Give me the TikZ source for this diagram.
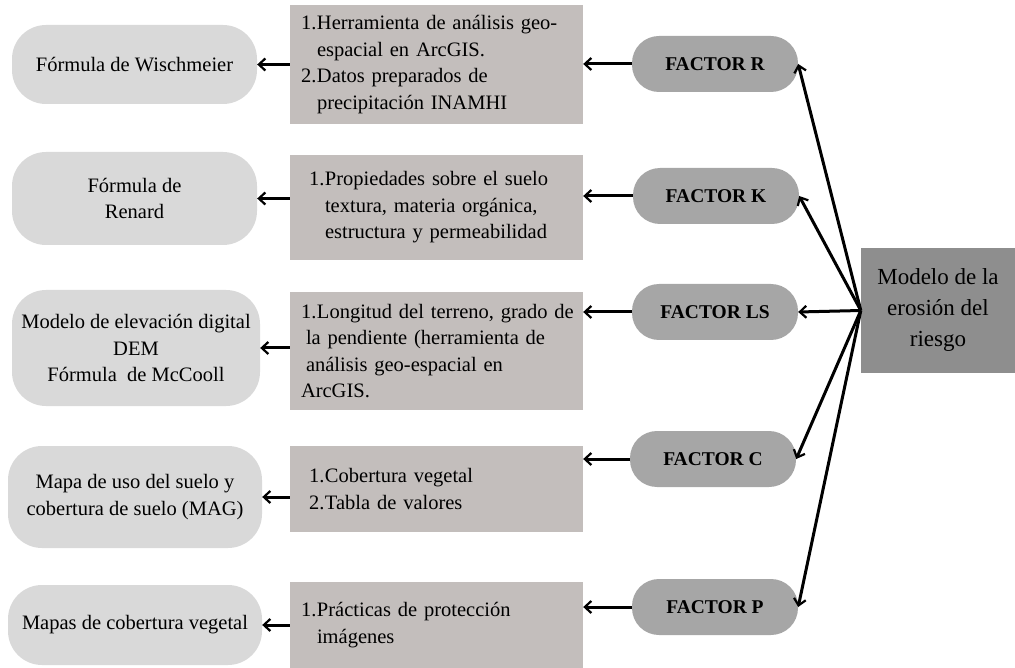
\documentclass[tikz,border=0pt]{standalone}
\usepackage{fontspec}
\setmainfont{Liberation Serif}
\usepackage{tikz}
\usetikzlibrary{arrows.meta,positioning}
\definecolor{claro}{HTML}{D9D9D9}
\definecolor{pardo}{HTML}{C3BEBC}
\definecolor{medio}{HTML}{A6A6A6}
\definecolor{oscuro}{HTML}{8E8E8E}
\newcommand{\itemno}[1]{\makebox[16pt][l]{#1}}
\newcommand{\sangria}{\hspace*{16pt}}

\begin{document}
\begin{tikzpicture}[x=1pt,y=-1pt,
    >={Straight Barb[length=6.5pt,width=12pt,line width=2.2pt]},
    flecha/.style={->,line width=3pt,black},
    fuente/.style={rounded corners=34pt,fill=claro,align=center,inner sep=0pt,
        font=\fontsize{20.5}{26.5}\selectfont},
    dato/.style={fill=pardo,text width=279pt,align=left,inner xsep=7pt,inner ysep=0pt,
        font=\fontsize{20.5}{26.5}\selectfont},
    factor/.style={rounded corners=27pt,fill=medio,minimum width=166pt,minimum height=56pt,
        inner sep=0pt,font=\bfseries\fontsize{19.5}{23}\selectfont},
    modelo/.style={fill=oscuro,minimum width=154pt,minimum height=125pt,align=center,
        inner sep=0pt,font=\fontsize{23}{31}\selectfont}]
    \useasboundingbox (0,0) rectangle (1015,668);

            % modelo
            \node[modelo] (modelo) at (938,310.5) {Modelo de la\\erosión del\\riesgo};

            % factores
            \node[factor] (f_R)  at (715,64)  {FACTOR R};
            \node[factor] (f_K)  at (716,196) {FACTOR K};
            \node[factor] (f_LS) at (715,312) {FACTOR LS};
            \node[factor] (f_C)  at (713,459) {FACTOR C};
            \node[factor] (f_P)  at (715,607) {FACTOR P};

            % datos
            \node[dato,minimum height=119pt] (d_R)  at (436.5,64.5) {\hspace*{4pt}\itemno{1.}Herramienta de análisis geo-\\\hspace*{4pt}\sangria espacial en ArcGIS.\\\hspace*{4pt}\itemno{2.}Datos preparados de\\\hspace*{4pt}\sangria precipitación INAMHI};
            \node[dato,minimum height=105pt] (d_K)  at (436.5,207.5) {\hspace*{12pt}\itemno{1.}Propiedades sobre el suelo\\\hspace*{12pt}\sangria textura, materia orgánica,\\\hspace*{12pt}\sangria estructura y permeabilidad};
            \node[dato,minimum height=118pt] (d_LS) at (436.5,351) {\hspace*{4pt}\itemno{1.}Longitud del terreno, grado de\\\hspace*{9pt}la pendiente (herramienta de\\\hspace*{9pt}análisis geo-espacial en\\\hspace*{4pt}ArcGIS.};
            \node[dato,minimum height=86pt]  (d_C)  at (436.5,489) {\hspace*{12pt}\itemno{1.}Cobertura vegetal\\\hspace*{12pt}\itemno{2.}Tabla de valores};
            \node[dato,minimum height=86pt]  (d_P)  at (436.5,625) {\hspace*{4pt}\itemno{1.}Prácticas de protección\\\hspace*{4pt}\sangria imágenes};

            % fuentes
            \node[fuente,minimum width=245pt,minimum height=79pt]  (l_R)  at (134.5,64.5) {Fórmula de Wischmeier};
            \node[fuente,minimum width=245pt,minimum height=93pt]  (l_K)  at (134.5,198.5) {Fórmula de\\Renard};
            \node[fuente,minimum width=248pt,minimum height=116pt] (l_LS) at (136,348) {Modelo de elevación digital\\DEM\\Fórmula~ de McCooll};
            \node[fuente,minimum width=254pt,minimum height=102pt] (l_C)  at (135,497) {Mapa de uso del suelo y\\cobertura de suelo (MAG)};
            \node[fuente,minimum width=254pt,minimum height=80pt]  (l_P)  at (135,625) {Mapas de cobertura vegetal};

            \path[flecha]
            (modelo.west) edge[flecha] (f_R.east)
                          edge[flecha] (f_K.east)
                          edge[flecha] (f_LS.east)
                          edge[flecha] (f_C.east)
                          edge[flecha] (f_P.east)
            (f_R.west)  edge[flecha] (d_R.east |- f_R.west)
            (f_K.west)  edge[flecha] (d_K.east |- f_K.west)
            (f_LS.west) edge[flecha] (d_LS.east |- f_LS.west)
            (f_C.west)  edge[flecha] (d_C.east |- f_C.west)
            (f_P.west)  edge[flecha] (d_P.east |- f_P.west)
            (d_R.west |- l_R.east)   edge[flecha] (l_R.east)
            (d_K.west |- l_K.east)   edge[flecha] (l_K.east)
            (d_LS.west |- l_LS.east) edge[flecha] (l_LS.east)
            (d_C.west |- l_C.east)   edge[flecha] (l_C.east)
            (d_P.west |- l_P.east)   edge[flecha] (l_P.east)
            ;
        \end{tikzpicture}
\end{document}
